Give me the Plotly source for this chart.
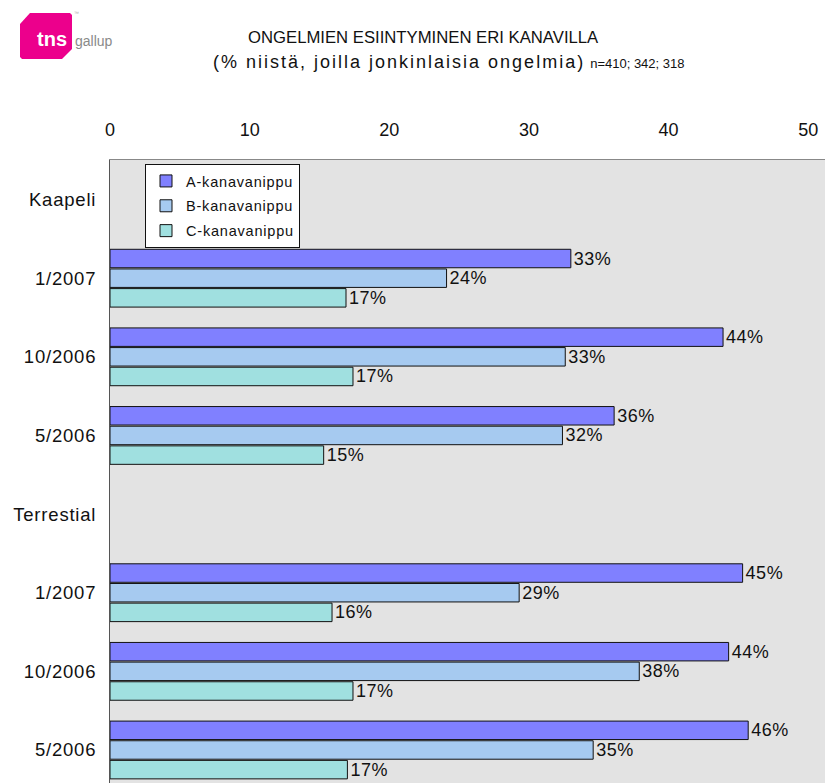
import plotly.graph_objects as go

# ---------------- data ----------------
groups = ["Kaapeli", "Terrestial"]
periods = ["1/2007", "10/2006", "5/2006"]
series_names = ["A-kanavanippu", "B-kanavanippu", "C-kanavanippu"]
kaapeli_A = [33.0, 43.9, 36.1]
kaapeli_B = [24.1, 32.6, 32.4]
kaapeli_C = [16.9, 17.4, 15.3]
terr_A = [45.3, 44.3, 45.7]
terr_B = [29.3, 37.9, 34.6]
terr_C = [15.9, 17.4, 17.0]
x_ticks = [0, 10, 20, 30, 40, 50]

colors = ["#8080FF", "#A6CAF0", "#A0E0E0"]
FONT = "Liberation Sans, Arial, sans-serif"

W, H = 825, 783
L, T = 110, 160            # plot-area left/top in pixels
PW = W - L
PH = H - T


def px(x):
    return (x - L) / PW


def py(y):
    return (H - y) / PH


def spaced(s, ls):
    return f"<span style='letter-spacing:{ls}px'>{s}</span>"


# category positions: group header, then its periods
tick_text = []
tick_vals = []
bar_pos = {g: [] for g in groups}
pos = 0
for g in groups:
    tick_text.append(spaced(g, 0.8))
    tick_vals.append(pos)
    pos += 1
    for p in periods:
        tick_text.append(spaced(p, 0.8))
        tick_vals.append(pos)
        bar_pos[g].append(pos)
        pos += 1

vals = {
    "Kaapeli": [kaapeli_A, kaapeli_B, kaapeli_C],
    "Terrestial": [terr_A, terr_B, terr_C],
}

fig = go.Figure()
for i, name in enumerate(series_names):
    xs, ys = [], []
    for g in groups:
        xs += vals[g][i]
        ys += bar_pos[g]
    fig.add_trace(go.Bar(
        x=xs, y=ys, orientation="h", name=spaced(name, 0.8), legendgroup=name,
        marker=dict(color=colors[i], line=dict(color="#111111", width=1)),
        text=[spaced(f"{round(v)}%", 0.5) for v in xs], textposition="outside",
        textfont=dict(size=18, color="#111111", family=FONT),
        constraintext="none", cliponaxis=False, hoverinfo="x+y",
    ))

fig.update_layout(
    width=W, height=H,
    margin=dict(l=L, r=0, t=T, b=0, pad=0),
    paper_bgcolor="white", plot_bgcolor="#E3E3E3",
    barmode="group", bargap=0.25, bargroupgap=0.06,
    font=dict(family=FONT, color="#111111"),
    showlegend=True,
    legend=dict(
        x=px(145), y=py(164), xanchor="left", yanchor="top",
        bgcolor="white", bordercolor="#111111", borderwidth=1,
        font=dict(size=14.5, family=FONT), tracegroupgap=3,
        traceorder="grouped", itemwidth=30,
    ),
    xaxis=dict(
        side="top", range=[0, 51.2], tickvals=x_ticks,
        showgrid=False, zeroline=False, showline=True,
        linecolor="#888888", linewidth=1,
        tickfont=dict(size=18, family=FONT, color="#111111"),
        ticks="", ticklabelstandoff=16, fixedrange=True,
    ),
    yaxis=dict(
        range=[7.42, -0.503], tickvals=tick_vals, ticktext=tick_text,
        showgrid=False, zeroline=False, showline=True,
        linecolor="#555555", linewidth=1,
        tickfont=dict(size=18.5, family=FONT, color="#111111"),
        ticks="", ticklabelstandoff=9, fixedrange=True,
    ),
)

# logo
pts = [(30, 13), (70, 13), (72, 15), (72, 49), (62, 59), (22, 59), (20, 57), (20, 24)]
path = "M " + " L ".join(f"{px(a):.5f},{py(b):.5f}" for a, b in pts) + " Z"
fig.add_shape(type="path", path=path, xref="paper", yref="paper",
              fillcolor="#EC008C", line=dict(width=0))
fig.add_annotation(x=px(52), y=py(39), xref="paper", yref="paper",
                   text="<b>tns</b>", showarrow=False, xanchor="center", yanchor="middle",
                   font=dict(size=20, color="white", family=FONT))
fig.add_annotation(x=px(73), y=py(41), xref="paper", yref="paper",
                   text="gallup", showarrow=False, xanchor="left", yanchor="middle",
                   font=dict(size=14, color="#8A8A8A", family=FONT))
fig.add_annotation(x=px(72), y=py(13), xref="paper", yref="paper",
                   text="™", showarrow=False, xanchor="left", yanchor="middle",
                   font=dict(size=5, color="#AAAAAA", family=FONT))

# titles
fig.add_annotation(x=px(423), y=py(38), xref="paper", yref="paper",
                   text="ONGELMIEN ESIINTYMINEN ERI KANAVILLA", showarrow=False,
                   xanchor="center", yanchor="middle",
                   font=dict(size=16.7, color="#111111", family=FONT))
fig.add_annotation(x=px(449), y=py(62), xref="paper", yref="paper",
                   text=spaced("(% niistä, joilla jonkinlaisia ongelmia)", 2)
                   + " <span style='font-size:13px'>n=410; 342; 318</span>",
                   showarrow=False, xanchor="center", yanchor="middle",
                   font=dict(size=18, color="#111111", family=FONT))

fig.write_html(
    "out.html",
    config={"displayModeBar": False},
    post_script="document.body.style.margin='0';document.body.style.overflow='hidden';",
)
